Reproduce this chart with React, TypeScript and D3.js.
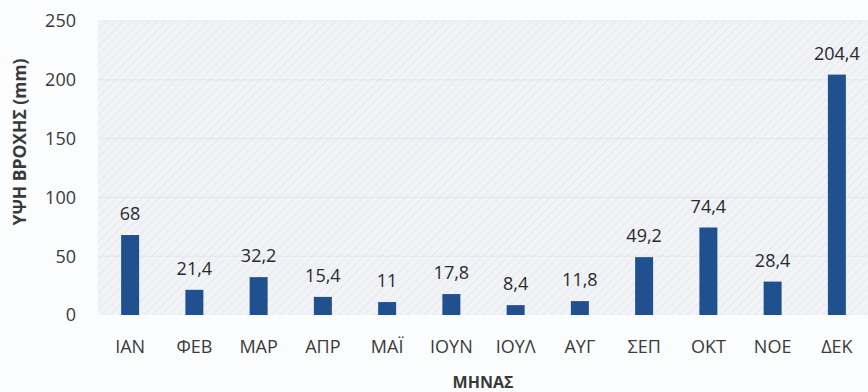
import React from "react";
import * as d3 from "d3";

const months = ["ΙΑΝ", "ΦΕΒ", "ΜΑΡ", "ΑΠΡ", "ΜΑΪ", "ΙΟΥΝ", "ΙΟΥΛ", "ΑΥΓ", "ΣΕΠ", "ΟΚΤ", "ΝΟΕ", "ΔΕΚ"];
const rainfall = [68, 21.4, 32.2, 15.4, 11, 17.8, 8.4, 11.8, 49.2, 74.4, 28.4, 204.4];
const yTicks = [0, 50, 100, 150, 200, 250];

const W = 868;
const H = 392;
const plotLeft = 98;
const plotRight = 869;
const plotTop = 21;
const plotBottom = 315;
const FONT = "'Open Sans', 'Liberation Sans', sans-serif";

export default function App() {
  const x = d3.scaleBand<string>().domain(months).range([plotLeft, plotRight]).paddingInner(0.72).paddingOuter(0.36);
  const y = d3.scaleLinear().domain([0, 250]).range([plotBottom, plotTop]);
  const fmt = (v: number) => String(v).replace(".", ",");

  return (
    <svg width={W} height={H} style={{ position: "absolute", left: 0, top: 0, background: "#fbfcfd" }}>
      <defs>
        <pattern id="hatch" width="6" height="6" patternUnits="userSpaceOnUse" patternTransform="rotate(45)">
          <rect width="6" height="6" fill="#f1f3f6" />
          <line x1="0" y1="0" x2="0" y2="6" stroke="#e3e7ec" strokeWidth="1.5" />
        </pattern>
      </defs>
      <rect x={plotLeft} y={plotTop} width={W - plotLeft} height={plotBottom - plotTop} fill="url(#hatch)" />
      {yTicks.map((t) => (
        <g key={t}>
          {t > 0 && (
            <line x1={plotLeft} x2={W} y1={y(t)} y2={y(t)} stroke="#e2e6ec" strokeWidth={1} />
          )}
          <text x={76} y={y(t)} dy="0.35em" textAnchor="end" fontFamily={FONT} fontSize={18} fill="#3a3a3a">
            {t}
          </text>
        </g>
      ))}
      {months.map((m, i) => {
        const v = rainfall[i];
        const bx = x(m)!;
        const bw = x.bandwidth();
        return (
          <g key={m}>
            <rect x={bx} y={y(v)} width={bw} height={plotBottom - y(v)} fill="#21508f" />
            <text x={bx + bw / 2} y={y(v) - 15} textAnchor="middle" fontFamily={FONT} fontSize={18} fill="#2a2a2a">
              {fmt(v)}
            </text>
            <text x={bx + bw / 2} y={353} textAnchor="middle" fontFamily={FONT} fontSize={18} fill="#3a3a3a">
              {m}
            </text>
          </g>
        );
      })}
      <text x={483} y={388} textAnchor="middle" fontFamily={FONT} fontSize={16} fontWeight="bold" fill="#3a3a3a">
        ΜΗΝΑΣ
      </text>
      <text
        transform={`translate(26, ${142}) rotate(-90)`}
        textAnchor="middle"
        fontFamily={FONT}
        fontSize={17.5}
        fontWeight="bold"
        fill="#3a3a3a"
      >
        ΥΨΗ ΒΡΟΧΗΣ (mm)
      </text>
    </svg>
  );
}
